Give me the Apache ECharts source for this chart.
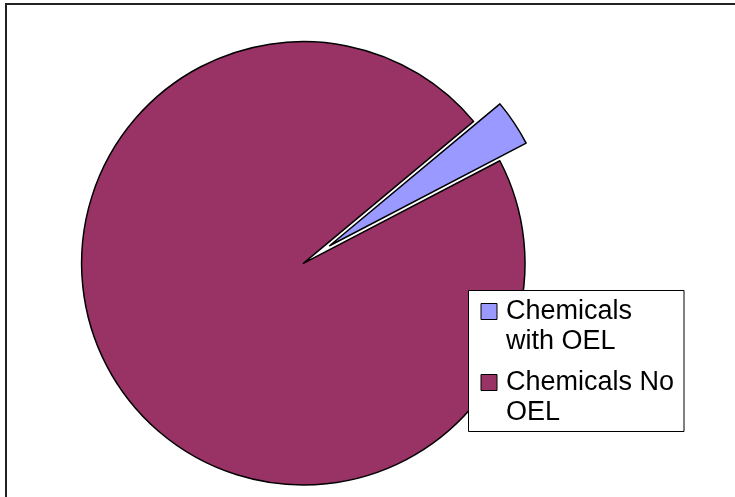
<!DOCTYPE html>
<html>
<head>
<meta charset="utf-8">
<script src="https://cdn.jsdelivr.net/npm/echarts@6/dist/echarts.min.js"></script>
<style>
html,body{margin:0;padding:0;background:#fff;}
#chart{width:735px;height:497px;}
</style>
</head>
<body>
<div id="chart"></div>
<script>
var categories = ['Chemicals with OEL', 'Chemicals No OEL'];
var legendLabels = ['Chemicals\nwith OEL', 'Chemicals No\nOEL'];
var values = [3.4, 96.6];
var colors = ['#9999FF', '#993366'];

var chart = echarts.init(document.getElementById('chart'), null, {renderer: 'canvas'});
var data = categories.map(function (c, i) {
  return {
    name: c,
    value: values[i],
    selected: i === 0,
    itemStyle: {color: colors[i]},
    select: {itemStyle: {color: colors[i], borderColor: '#000', borderWidth: 1.5}}
  };
});
var labelMap = {};
categories.forEach(function (c, i) { labelMap[c] = legendLabels[i]; });

chart.setOption({
  animation: false,
  backgroundColor: '#fff',
  graphic: [
    {type: 'rect', z: 0, shape: {x: 6, y: 4, width: 800, height: 600},
     style: {fill: 'none', stroke: '#222', lineWidth: 2}},
    {type: 'rect', z: 3, shape: {x: 468.5, y: 290.5, width: 215.5, height: 141},
     style: {fill: '#fff', stroke: '#000', lineWidth: 1}}
  ],
  legend: {
    orient: 'vertical',
    left: 480.5,
    top: 266.5,
    padding: 0,
    itemGap: -19,
    itemWidth: 16,
    itemHeight: 16,
    icon: 'rect',
    z: 4,
    selectedMode: false,
    data: categories,
    formatter: function (n) { return '\n' + labelMap[n]; },
    itemStyle: {borderColor: '#000', borderWidth: 1},
    textStyle: {
      color: '#000',
      fontSize: 27,
      lineHeight: 30,
      fontFamily: 'Liberation Sans, Arial, sans-serif',
      padding: [0, 0, 0, 4]
    }
  },
  series: [{
    type: 'pie',
    center: [303.3, 263.3],
    radius: 221.7,
    startAngle: 39.8,
    clockwise: true,
    selectedMode: 'single',
    selectedOffset: 31.6,
    avoidLabelOverlap: false,
    label: {show: false},
    labelLine: {show: false},
    emphasis: {disabled: true},
    itemStyle: {borderColor: '#000', borderWidth: 1.5},
    data: data
  }]
});
</script>
</body>
</html>
